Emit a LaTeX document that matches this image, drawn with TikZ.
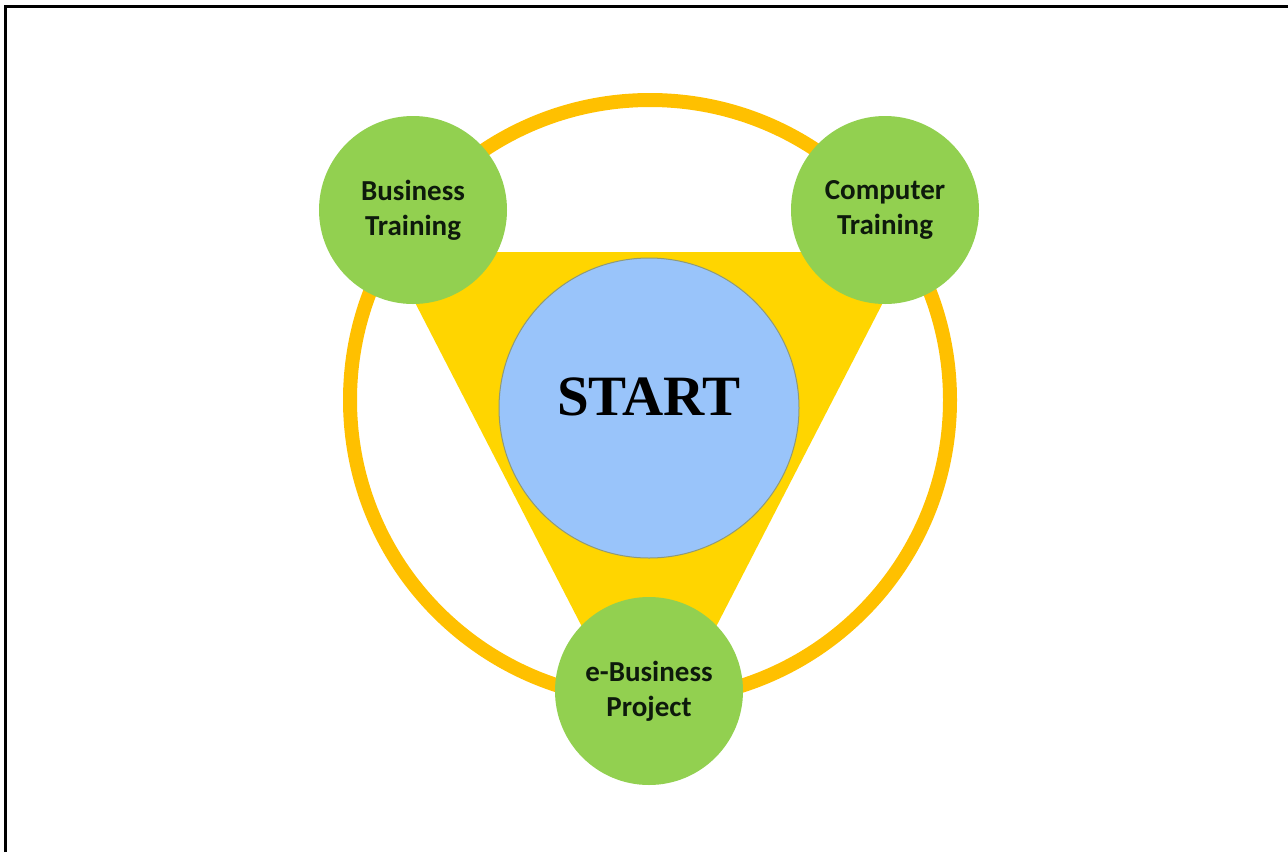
\documentclass[tikz,border=0pt]{standalone}
\usepackage{fontspec}
\setmainfont{Liberation Serif}
\newfontfamily\labelfont{Carlito}
\definecolor{ringorange}{HTML}{FFC000}
\definecolor{triyellow}{HTML}{FFD500}
\definecolor{stagegreen}{HTML}{92D050}
\definecolor{hubblue}{HTML}{99C4FA}
\definecolor{hubedge}{HTML}{8F9A78}
\definecolor{labeltext}{HTML}{0E1A0C}
\begin{document}
\begin{tikzpicture}[x=1pt,y=-1pt,
  stage/.style={circle, fill=stagegreen, minimum size=188pt, inner sep=0pt,
    align=center, text=labeltext,
    font=\labelfont\bfseries\fontsize{29}{35}\selectfont},
  hub/.style={circle, fill=hubblue, draw=hubedge, line width=1pt,
    minimum size=300pt, inner sep=0pt},
  hubtext/.style={font=\bfseries\fontsize{57}{60}\selectfont, text=black}]
\useasboundingbox (0,0) rectangle (1288,852);
% frame lines on the left and top
\draw[line width=3pt] (5,852) -- (5,6) -- (1288,6);
% orange ring
\draw[ringorange, line width=14pt] (650,400) circle[radius=300];
% yellow triangle behind the hub
\fill[triyellow] (389,252) -- (909,252) -- (649,757) -- cycle;
% central hub
\node[hub] (hub) at (649,408) {};
\node[hubtext] (starttext) at (649,397) {START};
% three stages on the ring
\node[stage] (business) at (413,210) {Business\\Training};
\node[stage] (computer) at (885,210) {Computer\\Training};
\node[stage] (project) at (649,691) {e-Business\\Project};
\end{tikzpicture}
\end{document}
